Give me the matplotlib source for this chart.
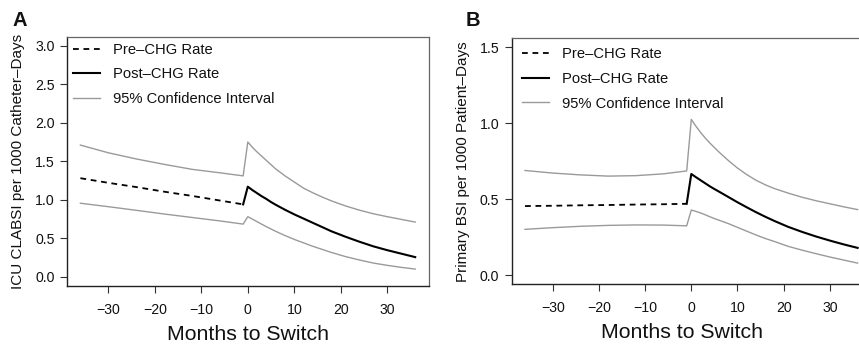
import matplotlib
matplotlib.use("Agg")
import matplotlib.pyplot as plt

plt.rcParams['font.family'] = ['Liberation Sans', 'DejaVu Sans']

# ---------------- data ----------------
months = [-36, -30, -24, -18, -12, -6, -1,
          0, 1, 2, 3, 4, 5, 6, 8, 10, 12, 14, 16, 18, 21, 24, 27, 30, 33, 36]
n_pre = 7  # first 7 months belong to the pre-CHG period (ending at -1)

# Panel A: ICU CLABSI per 1000 catheter-days
a_rate = [1.28, 1.22, 1.165, 1.105, 1.05, 0.99, 0.94,
          1.17, 1.125, 1.085, 1.045, 1.01, 0.97, 0.935, 0.87, 0.81, 0.755, 0.70, 0.645,
          0.59, 0.52, 0.455, 0.395, 0.345, 0.30, 0.255]
a_upper = [1.71, 1.61, 1.53, 1.46, 1.395, 1.35, 1.31,
           1.75, 1.68, 1.62, 1.565, 1.51, 1.455, 1.40, 1.31, 1.23, 1.15, 1.09, 1.035,
           0.985, 0.92, 0.865, 0.818, 0.78, 0.745, 0.71]
a_lower = [0.955, 0.91, 0.863, 0.815, 0.77, 0.725, 0.684,
           0.78, 0.748, 0.715, 0.682, 0.65, 0.62, 0.59, 0.535, 0.485, 0.44, 0.395, 0.355,
           0.315, 0.262, 0.218, 0.178, 0.148, 0.122, 0.10]

# Panel B: Primary BSI per 1000 patient-days
b_rate = [0.455, 0.457, 0.46, 0.462, 0.465, 0.467, 0.47,
          0.666, 0.645, 0.625, 0.605, 0.585, 0.567, 0.55, 0.515, 0.48, 0.447, 0.415, 0.385,
          0.357, 0.318, 0.285, 0.255, 0.228, 0.203, 0.18]
b_upper = [0.689, 0.672, 0.66, 0.652, 0.655, 0.667, 0.686,
           1.025, 0.98, 0.94, 0.903, 0.87, 0.84, 0.81, 0.755, 0.705, 0.662, 0.625, 0.595,
           0.57, 0.54, 0.513, 0.49, 0.47, 0.45, 0.432]
b_lower = [0.302, 0.313, 0.322, 0.328, 0.331, 0.33, 0.325,
           0.429, 0.42, 0.41, 0.398, 0.385, 0.373, 0.362, 0.34, 0.315, 0.29, 0.265, 0.242,
           0.222, 0.19, 0.165, 0.142, 0.12, 0.10, 0.08]

x_ticks = [-30, -20, -10, 0, 10, 20, 30]
a_yticks = [0.0, 0.5, 1.0, 1.5, 2.0, 2.5, 3.0]
b_yticks = [0.0, 0.5, 1.0, 1.5]

legend_labels = ["Pre\u2013CHG Rate", "Post\u2013CHG Rate", "95% Confidence Interval"]
xlabel = "Months to Switch"
a_ylabel = "ICU CLABSI per 1000 Catheter\u2013Days"
b_ylabel = "Primary BSI per 1000 Patient\u2013Days"

# ---------------- figure ----------------
fig = plt.figure(figsize=(8.59, 3.45), dpi=100)

GRAY = "#9a9a9a"


def panel(rect, rate, upper, lower, yticks, ylim, ylabel, letter, letter_xy,
          ylab_x, xlab_x, leg_anchor):
    ax = fig.add_axes(rect)
    l_pre, = ax.plot(months[:n_pre], rate[:n_pre], color="black", lw=1.3,
                     linestyle=(0, (3.2, 2.6)))
    l_post, = ax.plot(months[n_pre - 1:], rate[n_pre - 1:], color="black", lw=1.5)
    l_ci, = ax.plot(months, upper, color=GRAY, lw=1.0)
    ax.plot(months, lower, color=GRAY, lw=1.0)

    ax.set_xlim(-38.88, 38.88)
    ax.set_ylim(*ylim)
    ax.set_xticks(x_ticks)
    ax.set_yticks(yticks)
    ax.set_yticklabels([f"{v:.1f}" for v in yticks])
    ax.tick_params(axis="both", direction="out", length=5, width=0.8,
                   labelsize=10.2, color="#333333", labelcolor="#111111")
    ax.tick_params(axis="y", pad=4)
    ax.tick_params(axis="x", pad=7)
    for s in ("left", "bottom"):
        ax.spines[s].set_color("#222222")
        ax.spines[s].set_linewidth(1.0)
    for s in ("top", "right"):
        ax.spines[s].set_color("#666666")
        ax.spines[s].set_linewidth(0.9)

    ax.set_xlabel(xlabel, fontsize=15.3, color="#111111")
    ax.xaxis.set_label_coords(xlab_x, -0.155)
    ax.set_ylabel(ylabel, fontsize=11, color="#111111")
    ax.yaxis.set_label_coords(ylab_x, 0.5)

    leg = ax.legend([l_pre, l_post, l_ci], legend_labels, loc="upper left",
                    bbox_to_anchor=leg_anchor, frameon=False, fontsize=10.6,
                    handlelength=1.85, handletextpad=0.85, labelspacing=0.72,
                    borderaxespad=0, borderpad=0)
    for t in leg.get_texts():
        t.set_color("#111111")

    fig.text(letter_xy[0], letter_xy[1], letter, fontsize=14.5, fontweight="bold",
             ha="center", va="center", color="#111111")
    return ax


panel([67 / 859, 59 / 345, 361.6 / 859, 249.5 / 345],
      a_rate, a_upper, a_lower, a_yticks, (-0.12, 3.12), a_ylabel,
      "A", (20 / 859, 1 - 21 / 345), -0.115, 0.5, (0.017, 0.975))

panel([511.7 / 859, 60.6 / 345, 359.2 / 859, 246.4 / 345],
      b_rate, b_upper, b_lower, b_yticks, (-0.06, 1.56), b_ylabel,
      "B", (472.5 / 859, 1 - 20 / 345), -0.117, 0.474, (0.028, 0.962))

fig.savefig("out.png", dpi=100)
